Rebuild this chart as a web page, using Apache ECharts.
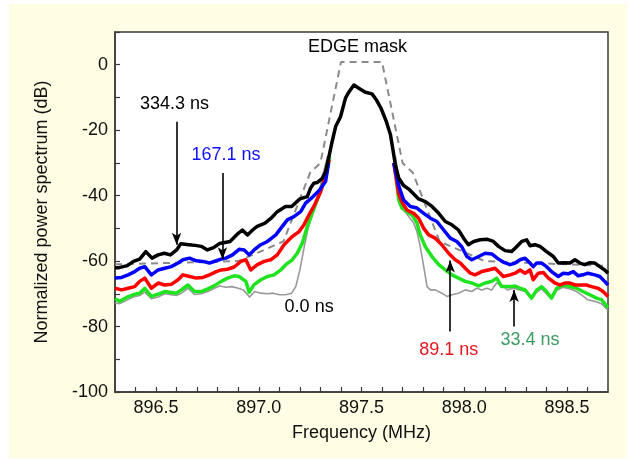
<!DOCTYPE html>
<html>
<head>
<meta charset="utf-8">
<script src="https://cdn.jsdelivr.net/npm/echarts@6/dist/echarts.min.js"></script>
<style>
  html, body { margin: 0; padding: 0; background: #fff; }
  #main { width: 629px; height: 459px; }
</style>
</head>
<body>
<div id="main"></div>
<script>
// frequency (MHz) / normalized power (dB) pairs
// '-' breaks the coloured traces where they run under the black peak
const trace334 = [
  [896.30,-62.0],[896.32,-62.0],[896.36,-61.4],[896.39,-60.1],[896.42,-59.4],[896.45,-57.1],
  [896.48,-59.1],[896.51,-58.1],[896.54,-57.6],[896.57,-58.1],[896.60,-56.6],[896.62,-54.7],
  [896.66,-55.0],[896.69,-55.2],[896.72,-55.5],[896.75,-56.6],[896.78,-55.9],[896.81,-54.6],
  [896.86,-54.0],[896.90,-51.5],[896.92,-50.5],[896.945,-52.0],[896.97,-50.5],[896.99,-49.5],
  [897.03,-48.4],[897.06,-46.9],[897.09,-44.9],[897.13,-43.3],[897.16,-43.3],[897.20,-41.0],
  [897.236,-40.3],[897.252,-37.7],[897.268,-36.2],[897.284,-36.0],[897.309,-34.7],[897.325,-32.7],
  [897.343,-27.6],[897.357,-23.5],[897.374,-18.9],[897.398,-15.9],[897.422,-10.2],[897.438,-8.4],
  [897.463,-6.2],[897.487,-7.2],[897.519,-8.4],[897.551,-8.9],[897.573,-10.8],[897.595,-13.3],
  [897.621,-17.4],[897.641,-21.4],[897.653,-26.0],[897.665,-30.6],[897.681,-34.6],[897.705,-36.9],
  [897.73,-38.0],[897.754,-39.5],[897.778,-41.0],[897.811,-41.8],[897.843,-43.3],[897.876,-45.4],
  [897.908,-47.9],[897.94,-48.9],[897.972,-50.5],[897.997,-53.0],[898.02,-55.0],[898.046,-54.0],
  [898.078,-53.5],[898.11,-53.3],[898.142,-54.0],[898.167,-55.5],[898.199,-56.8],[898.231,-57.1],
  [898.255,-55.6],[898.28,-54.0],[898.304,-53.5],[898.32,-55.3],[898.345,-55.0],[898.369,-55.5],
  [898.401,-57.1],[898.434,-58.6],[898.458,-60.6],[898.49,-60.5],[898.515,-60.6],[898.539,-59.6],
  [898.563,-60.6],[898.587,-61.1],[898.612,-60.5],[898.636,-60.6],[898.66,-61.7],[898.684,-62.7],
  [898.70,-63.7]
];
const trace167 = [
  [896.30,-65.2],[896.332,-65.0],[896.364,-64.2],[896.396,-63.2],[896.42,-62.2],[896.445,-61.7],
  [896.477,-64.2],[896.51,-62.7],[896.542,-62.2],[896.574,-61.7],[896.607,-60.6],[896.631,-59.6],
  [896.663,-59.1],[896.696,-59.9],[896.728,-60.1],[896.76,-60.6],[896.793,-59.9],[896.817,-59.4],
  [896.84,-59.1],[896.872,-58.1],[896.904,-56.4],[896.929,-56.6],[896.953,-58.1],[896.977,-56.6],
  [897.01,-55.0],[897.042,-54.0],[897.083,-52.0],[897.107,-50.0],[897.139,-47.4],[897.171,-46.4],
  [897.204,-44.9],[897.228,-42.3],[897.252,-41.0],[897.268,-40.0],[897.293,-38.5],[897.325,-35.7],
  [897.34,-30.0],[897.5,'-'],[897.657,-30.0],[897.681,-37.0],
  [897.705,-41.3],[897.738,-43.3],[897.77,-43.8],[897.803,-45.4],[897.835,-46.9],[897.867,-47.9],
  [897.90,-50.5],[897.932,-53.0],[897.964,-54.0],[897.988,-55.6],[898.013,-58.6],[898.037,-59.6],
  [898.07,-58.6],[898.102,-57.6],[898.134,-57.8],[898.167,-59.4],[898.19,-60.3],[898.223,-61.1],
  [898.248,-60.6],[898.272,-59.6],[898.296,-59.1],[898.32,-60.6],[898.336,-61.7],[898.353,-60.6],
  [898.377,-60.6],[898.401,-61.7],[898.425,-63.2],[898.458,-64.7],[898.482,-63.7],[898.506,-63.9],
  [898.531,-63.2],[898.555,-64.5],[898.578,-64.2],[898.602,-63.7],[898.636,-64.2],[898.66,-64.7],
  [898.684,-66.2],[898.70,-67.3]
];
const trace89 = [
  [896.30,-68.3],[896.332,-68.8],[896.364,-68.3],[896.396,-67.8],[896.42,-66.2],[896.445,-65.2],
  [896.477,-68.3],[896.51,-66.7],[896.542,-67.3],[896.574,-67.1],[896.607,-65.7],[896.631,-64.2],
  [896.663,-64.7],[896.696,-65.2],[896.728,-65.0],[896.76,-64.2],[896.793,-63.2],[896.817,-62.7],
  [896.848,-62.5],[896.88,-61.8],[896.913,-60.1],[896.937,-59.6],[896.961,-62.7],[896.993,-61.1],
  [897.026,-60.1],[897.058,-59.6],[897.09,-58.1],[897.123,-55.0],[897.163,-52.5],[897.196,-51.0],
  [897.22,-48.9],[897.244,-45.9],[897.268,-43.3],[897.30,-39.0],[897.32,-35.0],[897.343,-29.0],
  [897.5,'-'],[897.657,-30.0],[897.681,-39.5],
  [897.697,-42.0],[897.721,-44.4],[897.754,-45.4],[897.778,-46.9],[897.803,-50.0],[897.827,-52.0],
  [897.859,-53.0],[897.891,-55.0],[897.924,-57.6],[897.956,-59.6],[897.981,-60.6],[898.005,-62.2],
  [898.03,-63.7],[898.053,-64.2],[898.085,-63.2],[898.118,-62.7],[898.15,-62.2],[898.175,-63.7],
  [898.19,-64.7],[898.223,-64.2],[898.248,-63.7],[898.272,-62.7],[898.296,-63.7],[898.32,-62.7],
  [898.336,-65.7],[898.36,-63.7],[898.385,-63.5],[898.41,-65.2],[898.442,-66.7],[898.466,-67.3],
  [898.49,-66.7],[898.515,-66.7],[898.539,-67.3],[898.571,-67.3],[898.595,-67.3],[898.62,-67.8],
  [898.652,-68.3],[898.676,-69.3],[898.70,-70.8]
];
const trace33 = [
  [896.30,-71.5],[896.323,-72.3],[896.356,-71.1],[896.388,-70.3],[896.42,-69.8],[896.445,-68.3],
  [896.477,-70.8],[896.51,-70.1],[896.542,-69.3],[896.574,-69.6],[896.599,-69.8],[896.623,-68.8],
  [896.655,-67.3],[896.687,-69.3],[896.72,-69.3],[896.752,-68.5],[896.784,-67.5],[896.817,-66.2],
  [896.848,-65.2],[896.88,-64.5],[896.904,-64.7],[896.937,-66.2],[896.953,-69.5],[896.977,-67.2],
  [897.01,-65.7],[897.042,-64.7],[897.074,-64.2],[897.107,-62.7],[897.131,-61.1],[897.163,-59.6],
  [897.187,-57.6],[897.212,-54.5],[897.236,-49.5],[897.26,-45.4],[897.283,-41.5],[897.307,-37.5],
  [897.33,-33.0],[897.345,-28.0],[897.5,'-'],[897.66,-30.0],[897.681,-41.3],
  [897.697,-43.8],[897.721,-44.9],[897.746,-45.9],[897.77,-48.4],[897.786,-52.0],[897.811,-55.6],
  [897.843,-58.6],[897.876,-61.1],[897.908,-62.7],[897.94,-64.2],[897.972,-65.2],[898.005,-66.2],
  [898.037,-66.7],[898.07,-67.6],[898.102,-66.7],[898.134,-66.2],[898.158,-65.2],[898.182,-67.8],
  [898.223,-67.8],[898.248,-67.6],[898.272,-68.3],[898.296,-68.8],[898.328,-71.3],[898.353,-68.8],
  [898.377,-67.8],[898.401,-69.3],[898.425,-71.3],[898.45,-68.3],[898.482,-67.3],[898.515,-67.8],
  [898.547,-68.3],[898.578,-69.3],[898.612,-70.3],[898.644,-71.3],[898.668,-71.8],[898.70,-74.2]
];
const trace0 = [
  [896.30,-72.8],[896.323,-73.0],[896.356,-72.0],[896.388,-71.0],[896.42,-70.5],[896.445,-69.5],
  [896.477,-71.5],[896.51,-71.0],[896.542,-70.0],[896.574,-70.3],[896.599,-70.5],[896.623,-69.8],
  [896.655,-68.3],[896.687,-70.2],[896.72,-70.0],[896.752,-69.3],[896.784,-68.3],[896.81,-67.6],
  [896.84,-68.0],[896.87,-67.8],[896.90,-68.3],[896.925,-68.8],[896.955,-71.0],[896.98,-69.3],
  [897.01,-69.8],[897.04,-70.0],[897.07,-69.8],[897.10,-70.3],[897.13,-70.3],[897.16,-69.8],
  [897.18,-67.8],[897.20,-62.7],[897.22,-56.0],[897.24,-50.0],[897.265,-45.0],[897.29,-40.0],
  [897.31,-34.0],[897.335,-28.0],[897.5,'-'],[897.665,-28.0],[897.69,-38.0],
  [897.705,-44.4],[897.73,-46.4],[897.754,-48.4],[897.77,-51.0],[897.786,-55.6],[897.803,-61.7],
  [897.819,-67.8],[897.835,-68.8],[897.859,-68.8],[897.891,-69.8],[897.916,-70.8],[897.94,-70.3],
  [897.972,-69.8],[898.005,-68.8],[898.037,-69.3],[898.061,-68.3],[898.085,-68.8],[898.11,-68.3],
  [898.134,-68.8],[898.158,-66.7],[898.182,-67.3],[898.21,-68.8],[898.24,-68.3],[898.27,-68.8],
  [898.30,-69.3],[898.328,-71.5],[898.353,-69.5],[898.377,-68.5],[898.40,-70.0],[898.425,-71.5],
  [898.45,-69.0],[898.48,-68.0],[898.515,-68.5],[898.547,-69.3],[898.571,-70.3],[898.60,-71.8],
  [898.636,-72.3],[898.668,-73.0],[898.70,-75.0]
];
const edgeMask = [
  [896.3,-61],[896.9,-60],[897.12,-54],[897.25,-33],[897.3,-30],[897.4,0.8],
  [897.6,0.8],[897.7,-30],[897.75,-33],[897.88,-54],[898.1,-60],[898.7,-61.5]
];

const xLabels = [896.5, 897.0, 897.5, 898.0, 898.5];
const xTicks = [896.4,896.5,896.6,896.7,896.8,896.9,897.0,897.1,897.2,897.3,897.4,897.5,
                897.6,897.7,897.8,897.9,898.0,898.1,898.2,898.3,898.4,898.5,898.6];
const yLabels = [-100, -80, -60, -40, -20, 0];

// callouts: [text, x, y, colour]
const notes = [
  ['EDGE mask', 897.48, 5.3, '#000'],
  ['334.3 ns', 896.59, -12.0, '#000'],
  ['167.1 ns', 896.84, -27.6, '#1010ff'],
  ['0.0 ns', 897.245, -74.1, '#000'],
  ['89.1 ns', 897.925, -87.1, '#e8141e'],
  ['33.4 ns', 898.32, -84.0, '#3a9a62']
];
// arrows: [x, yFrom, yTo]
const arrows = [
  [896.60, -17.4, -55.0],
  [896.823, -33.1, -59.4],
  [897.932, -81.5, -59.8],
  [898.243, -80.0, -68.8]
];

const FONT = 'Liberation Sans, Arial, sans-serif';
const myChart = echarts.init(document.getElementById('main'));

function trace(data, color, width, extra) {
  return Object.assign({
    type: 'line', data: data, symbol: 'none', silent: true,
    lineStyle: {color: color, width: width, join: 'round'}
  }, extra || {});
}

const option = {
  animation: false,
  backgroundColor: '#ffffff',
  graphic: [{
    type: 'rect', z: -10, silent: true,
    shape: {x: 9, y: 4, width: 618, height: 454},
    style: {fill: '#fffee4'}
  }],
  grid: {
    left: 115, right: 21, top: 32, bottom: 67,
    show: true, backgroundColor: '#ffffff', borderColor: '#3a3a3a', borderWidth: 1.5
  },
  xAxis: {
    type: 'value', min: 896.3, max: 898.7,
    name: 'Frequency (MHz)', nameLocation: 'middle', nameGap: 32,
    nameTextStyle: {fontFamily: FONT, fontSize: 18, color: '#111'},
    axisLine: {show: true, onZero: false, lineStyle: {color: '#3a3a3a', width: 1.5}},
    axisTick: {show: true, inside: true, length: 5, customValues: xTicks,
               lineStyle: {color: '#3a3a3a', width: 1.2}},
    axisLabel: {customValues: xLabels, margin: 7, fontFamily: FONT, fontSize: 18, color: '#111',
                formatter: v => v.toFixed(1)},
    splitLine: {show: false}
  },
  yAxis: {
    type: 'value', min: -100, max: 10, interval: 10,
    name: 'Normalized power spectrum (dB)', nameLocation: 'middle', nameGap: 64,
    nameTextStyle: {fontFamily: FONT, fontSize: 18, color: '#111'},
    axisLine: {show: true, onZero: false, lineStyle: {color: '#3a3a3a', width: 1.5}},
    axisTick: {show: true, inside: true, length: 5, lineStyle: {color: '#3a3a3a', width: 1.2}},
    axisLabel: {customValues: yLabels, margin: 7, fontFamily: FONT, fontSize: 18, color: '#111'},
    splitLine: {show: false}
  },
  series: [
    trace(edgeMask, '#8a8a8a', 2, {lineStyle: {color: '#8a8a8a', width: 2, type: [7, 5]}}),
    trace(trace0, '#999999', 1.6),
    trace(trace33, '#1fe31f', 3.5),
    trace(trace89, '#ff0000', 3.5),
    trace(trace167, '#0000ff', 3.5),
    trace(trace334, '#000000', 3.5, {
      markLine: {
        silent: true, animation: false,
        symbol: ['none', 'arrow'], symbolSize: [7, 12],
        label: {show: false},
        lineStyle: {color: '#000', width: 1.6, type: 'solid'},
        data: arrows.map(a => [{coord: [a[0], a[1]]}, {coord: [a[0], a[2]]}])
      },
      markPoint: {
        silent: true, animation: false,
        symbol: 'circle', symbolSize: 0,
        data: notes.map(n => ({
          coord: [n[1], n[2]], value: n[0],
          label: {show: true, position: 'inside', formatter: n[0], color: n[3],
                  fontFamily: FONT, fontSize: 18}
        }))
      }
    })
  ]
};

myChart.setOption(option);
</script>
</body>
</html>
